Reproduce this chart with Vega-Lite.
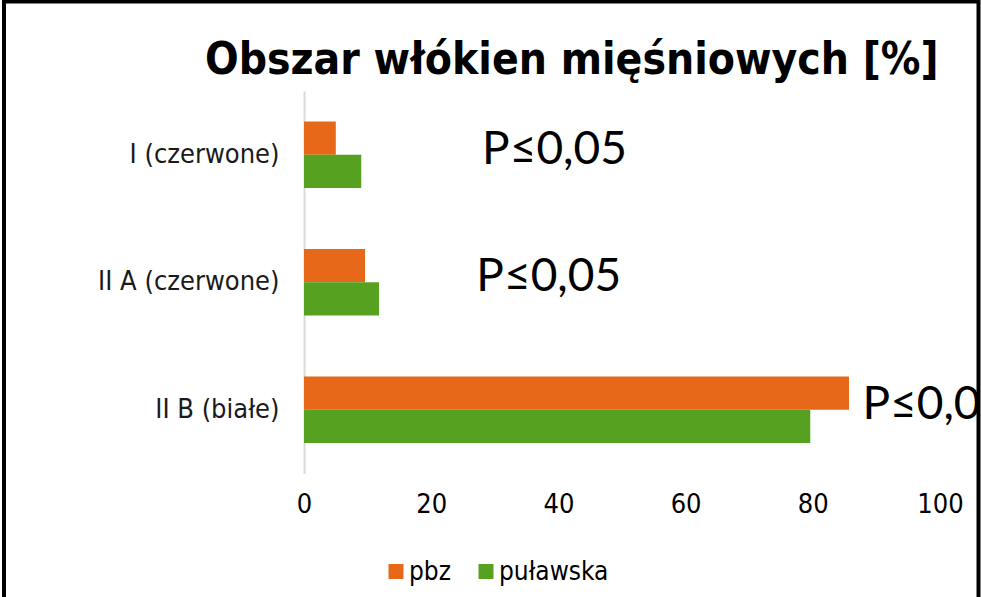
{
  "$schema": "https://vega.github.io/schema/vega-lite/v6.json",
  "autosize": {"type": "none"},
  "width": 974.5,
  "height": 605,
  "padding": {"left": 4, "top": 1.5, "right": 2.5, "bottom": -9.5},
  "background": "white",
  "config": {
    "view": {"stroke": "#000000", "strokeWidth": 4},
    "axis": {"grid": false}
  },
  "title": {
    "text": "Obszar włókien mięśniowych [%]",
    "anchor": "start",
    "frame": "group",
    "dx": 201,
    "offset": -81,
    "font": "DejaVu Sans Condensed",
    "fontWeight": "bold",
    "fontSize": 44,
    "color": "#000000"
  },
  "datasets": {
    "bars": [
      {"cat": "I (czerwone)", "series": "pbz", "value": 5.0},
      {"cat": "I (czerwone)", "series": "puławska", "value": 9.0},
      {"cat": "II A (czerwone)", "series": "pbz", "value": 9.6},
      {"cat": "II A (czerwone)", "series": "puławska", "value": 11.8},
      {"cat": "II B (białe)", "series": "pbz", "value": 85.7},
      {"cat": "II B (białe)", "series": "puławska", "value": 79.6}
    ],
    "notes": [
      {"cat": "I (czerwone)", "x": 28.0, "label": "P≤0,05"},
      {"cat": "II A (czerwone)", "x": 27.1, "label": "P≤0,05"},
      {"cat": "II B (białe)", "x": 87.8, "label": "P≤0,05"}
    ]
  },
  "layer": [
    {
      "data": {"name": "bars"},
      "mark": {"type": "bar"},
      "encoding": {
        "y": {
          "field": "cat",
          "type": "nominal",
          "sort": ["I (czerwone)", "II A (czerwone)", "II B (białe)"],
          "scale": {"range": [89.5, 472], "paddingInner": 0.48, "paddingOuter": 0.24},
          "axis": {
            "title": null,
            "offset": -300,
            "ticks": false,
            "domainColor": "#d9d9d9",
            "domainWidth": 2,
            "labelPadding": 25,
            "labelLimit": 400,
            "labelFont": "DejaVu Sans Condensed",
            "labelFontSize": 27,
            "labelColor": "#1a1a1a"
          }
        },
        "yOffset": {"field": "series", "type": "nominal", "sort": ["pbz", "puławska"]},
        "x": {
          "field": "value",
          "type": "quantitative",
          "scale": {"domain": [0, 100], "range": [300, 936], "nice": false},
          "axis": {
            "title": null,
            "values": [0, 20, 40, 60, 80, 100],
            "domain": false,
            "ticks": false,
            "labelFlush": false,
            "offset": -115,
            "labelPadding": 0,
            "labelFont": "DejaVu Sans Condensed",
            "labelFontSize": 27,
            "labelColor": "#000000"
          }
        },
        "color": {
          "field": "series",
          "type": "nominal",
          "scale": {"domain": ["pbz", "puławska"], "range": ["#E8681A", "#57A121"]},
          "legend": {
            "title": null,
            "orient": "none",
            "direction": "horizontal",
            "legendX": 379,
            "legendY": 557,
            "symbolType": "square",
            "symbolSize": 225,
            "symbolStrokeWidth": 0,
            "symbolOpacity": 1,
            "labelFont": "DejaVu Sans Condensed",
            "labelFontSize": 26,
            "labelColor": "#000000",
            "labelOffset": 0,
            "columnPadding": 22
          }
        }
      }
    },
    {
      "data": {"name": "notes"},
      "mark": {
        "type": "text",
        "align": "left",
        "baseline": "middle",
        "dy": -5,
        "font": "Lato",
        "fontSize": 46,
        "color": "#000000",
        "clip": true
      },
      "encoding": {
        "y": {"field": "cat", "type": "nominal", "sort": ["I (czerwone)", "II A (czerwone)", "II B (białe)"]},
        "x": {"field": "x", "type": "quantitative"},
        "text": {"field": "label"}
      }
    }
  ]
}
